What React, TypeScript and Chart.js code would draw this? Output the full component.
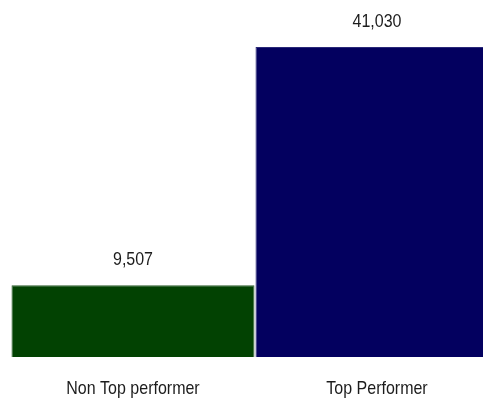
import React, { useEffect, useRef } from "react";
import { Chart, registerables } from "chart.js";

Chart.register(...registerables);

const categories = ["Non Top performer", "Top Performer"];
const values = [9507, 41030];
const barColors = ["#024202", "#03005f"];
const borderColors = ["#2f5f2f", "#2a2878"];
const yMax = 45000;

const textPlugin = {
  id: "stretchedText",
  afterDatasetsDraw(chart: any) {
    const ctx = chart.ctx as CanvasRenderingContext2D;
    const meta = chart.getDatasetMeta(0);
    const xScale = chart.scales.x;
    const drawText = (t: string, x: number, y: number) => {
      ctx.save();
      ctx.translate(x, y);
      ctx.scale(1, 1.2);
      ctx.font = "16px 'Liberation Sans', Arial, sans-serif";
      ctx.fillStyle = "#1c1c1c";
      ctx.textAlign = "center";
      ctx.textBaseline = "middle";
      ctx.fillText(t, 0, 0);
      ctx.restore();
    };
    meta.data.forEach((bar: any, i: number) => {
      drawText(values[i].toLocaleString("en-US"), bar.x, bar.y - 25);
    });
    categories.forEach((c, i) => {
      drawText(c, xScale.getPixelForValue(i), 389);
    });
  },
};

export default function App() {
  const ref = useRef<HTMLCanvasElement>(null);
  useEffect(() => {
    if (!ref.current) return;
    const chart = new Chart(ref.current, {
      type: "bar",
      data: {
        labels: categories,
        datasets: [
          {
            data: values,
            backgroundColor: barColors,
            borderColor: borderColors,
            borderWidth: 1,
            barPercentage: 0.996,
            categoryPercentage: 1,
          },
        ],
      },
      options: {
        responsive: false,
        animation: false,
        layout: { padding: { left: 11, right: 1, top: 17, bottom: 44 } },
        plugins: { legend: { display: false }, tooltip: { enabled: false } },
        scales: {
          x: { display: false },
          y: { display: false, min: 0, max: yMax },
        },
      },
      plugins: [textPlugin],
    });
    return () => chart.destroy();
  }, []);
  return (
    <div
      style={{
        position: "fixed",
        left: 0,
        top: 0,
        width: 483,
        height: 401,
        overflow: "hidden",
        background: "#ffffff",
      }}
    >
      <canvas ref={ref} width={500} height={401} style={{ display: "block" }} />
    </div>
  );
}
